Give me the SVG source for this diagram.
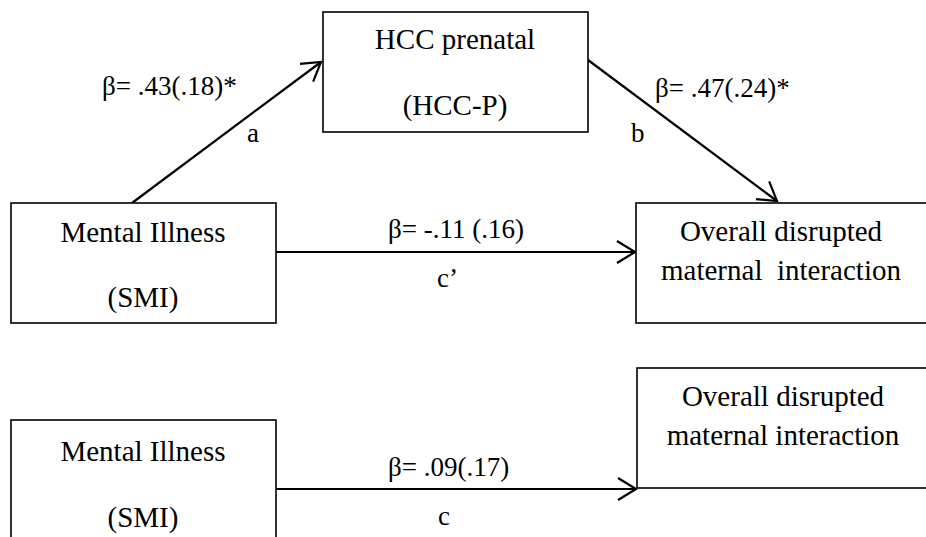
<svg xmlns="http://www.w3.org/2000/svg" width="926" height="537" viewBox="0 0 926 537">
<style>
.box{fill:#fff;stroke:#000;stroke-width:1.6}
.t{font-family:"Liberation Serif","Times New Roman",serif;font-size:29px;fill:#000;text-anchor:middle}
.l{font-family:"Liberation Serif","Times New Roman",serif;font-size:27px;fill:#000}
.e{stroke:#000;stroke-width:2.2;fill:none}
</style>
<defs>
<marker id="ah" markerUnits="userSpaceOnUse" viewBox="-2 -2 24 26" markerWidth="24" markerHeight="26" refX="18" refY="11" orient="auto">
<path d="M0,0 L18,11 L0,22" fill="none" stroke="#000" stroke-width="2.2"/>
</marker>
</defs>
<rect width="926" height="537" fill="#fff"/>
<g id="connectors">
<line class="e" x1="132" y1="203" x2="321" y2="62" marker-end="url(#ah)"/>
<line class="e" x1="588" y1="60" x2="777" y2="201" marker-end="url(#ah)"/>
<line class="e" x1="276" y1="252" x2="635" y2="252" marker-end="url(#ah)"/>
<line class="e" x1="276" y1="489" x2="636" y2="489" marker-end="url(#ah)"/>
<text class="l" x="102" y="95">β= .43(.18)*</text>
<text class="l" x="247" y="142">a</text>
<text class="l" x="655" y="97">β= .47(.24)*</text>
<text class="l" x="631" y="142">b</text>
<text class="l" x="388" y="238">β= -.11 (.16)</text>
<text class="l" x="437" y="287">c’</text>
<text class="l" x="388" y="476">β= .09(.17)</text>
<text class="l" x="438" y="525">c</text>
</g>
<g id="hcc">
<rect class="box" x="323" y="12" width="265" height="120"/>
<text class="t" x="455" y="49">HCC prenatal</text>
<text class="t" x="455" y="115">(HCC-P)</text>
</g>
<g id="smi1">
<rect class="box" x="11" y="203" width="265" height="120"/>
<text class="t" x="143" y="242">Mental Illness</text>
<text class="t" x="143" y="307">(SMI)</text>
</g>
<g id="out1">
<rect class="box" x="636" y="203" width="300" height="120"/>
<text class="t" x="781" y="241">Overall disrupted</text>
<text class="t" x="781" y="280" xml:space="preserve">maternal  interaction</text>
</g>
<g id="smi2">
<rect class="box" x="11" y="420" width="265" height="140"/>
<text class="t" x="143" y="461">Mental Illness</text>
<text class="t" x="143" y="527">(SMI)</text>
</g>
<g id="out2">
<rect class="box" x="637" y="368" width="300" height="120"/>
<text class="t" x="783" y="406">Overall disrupted</text>
<text class="t" x="783" y="445">maternal interaction</text>
</g>
</svg>
